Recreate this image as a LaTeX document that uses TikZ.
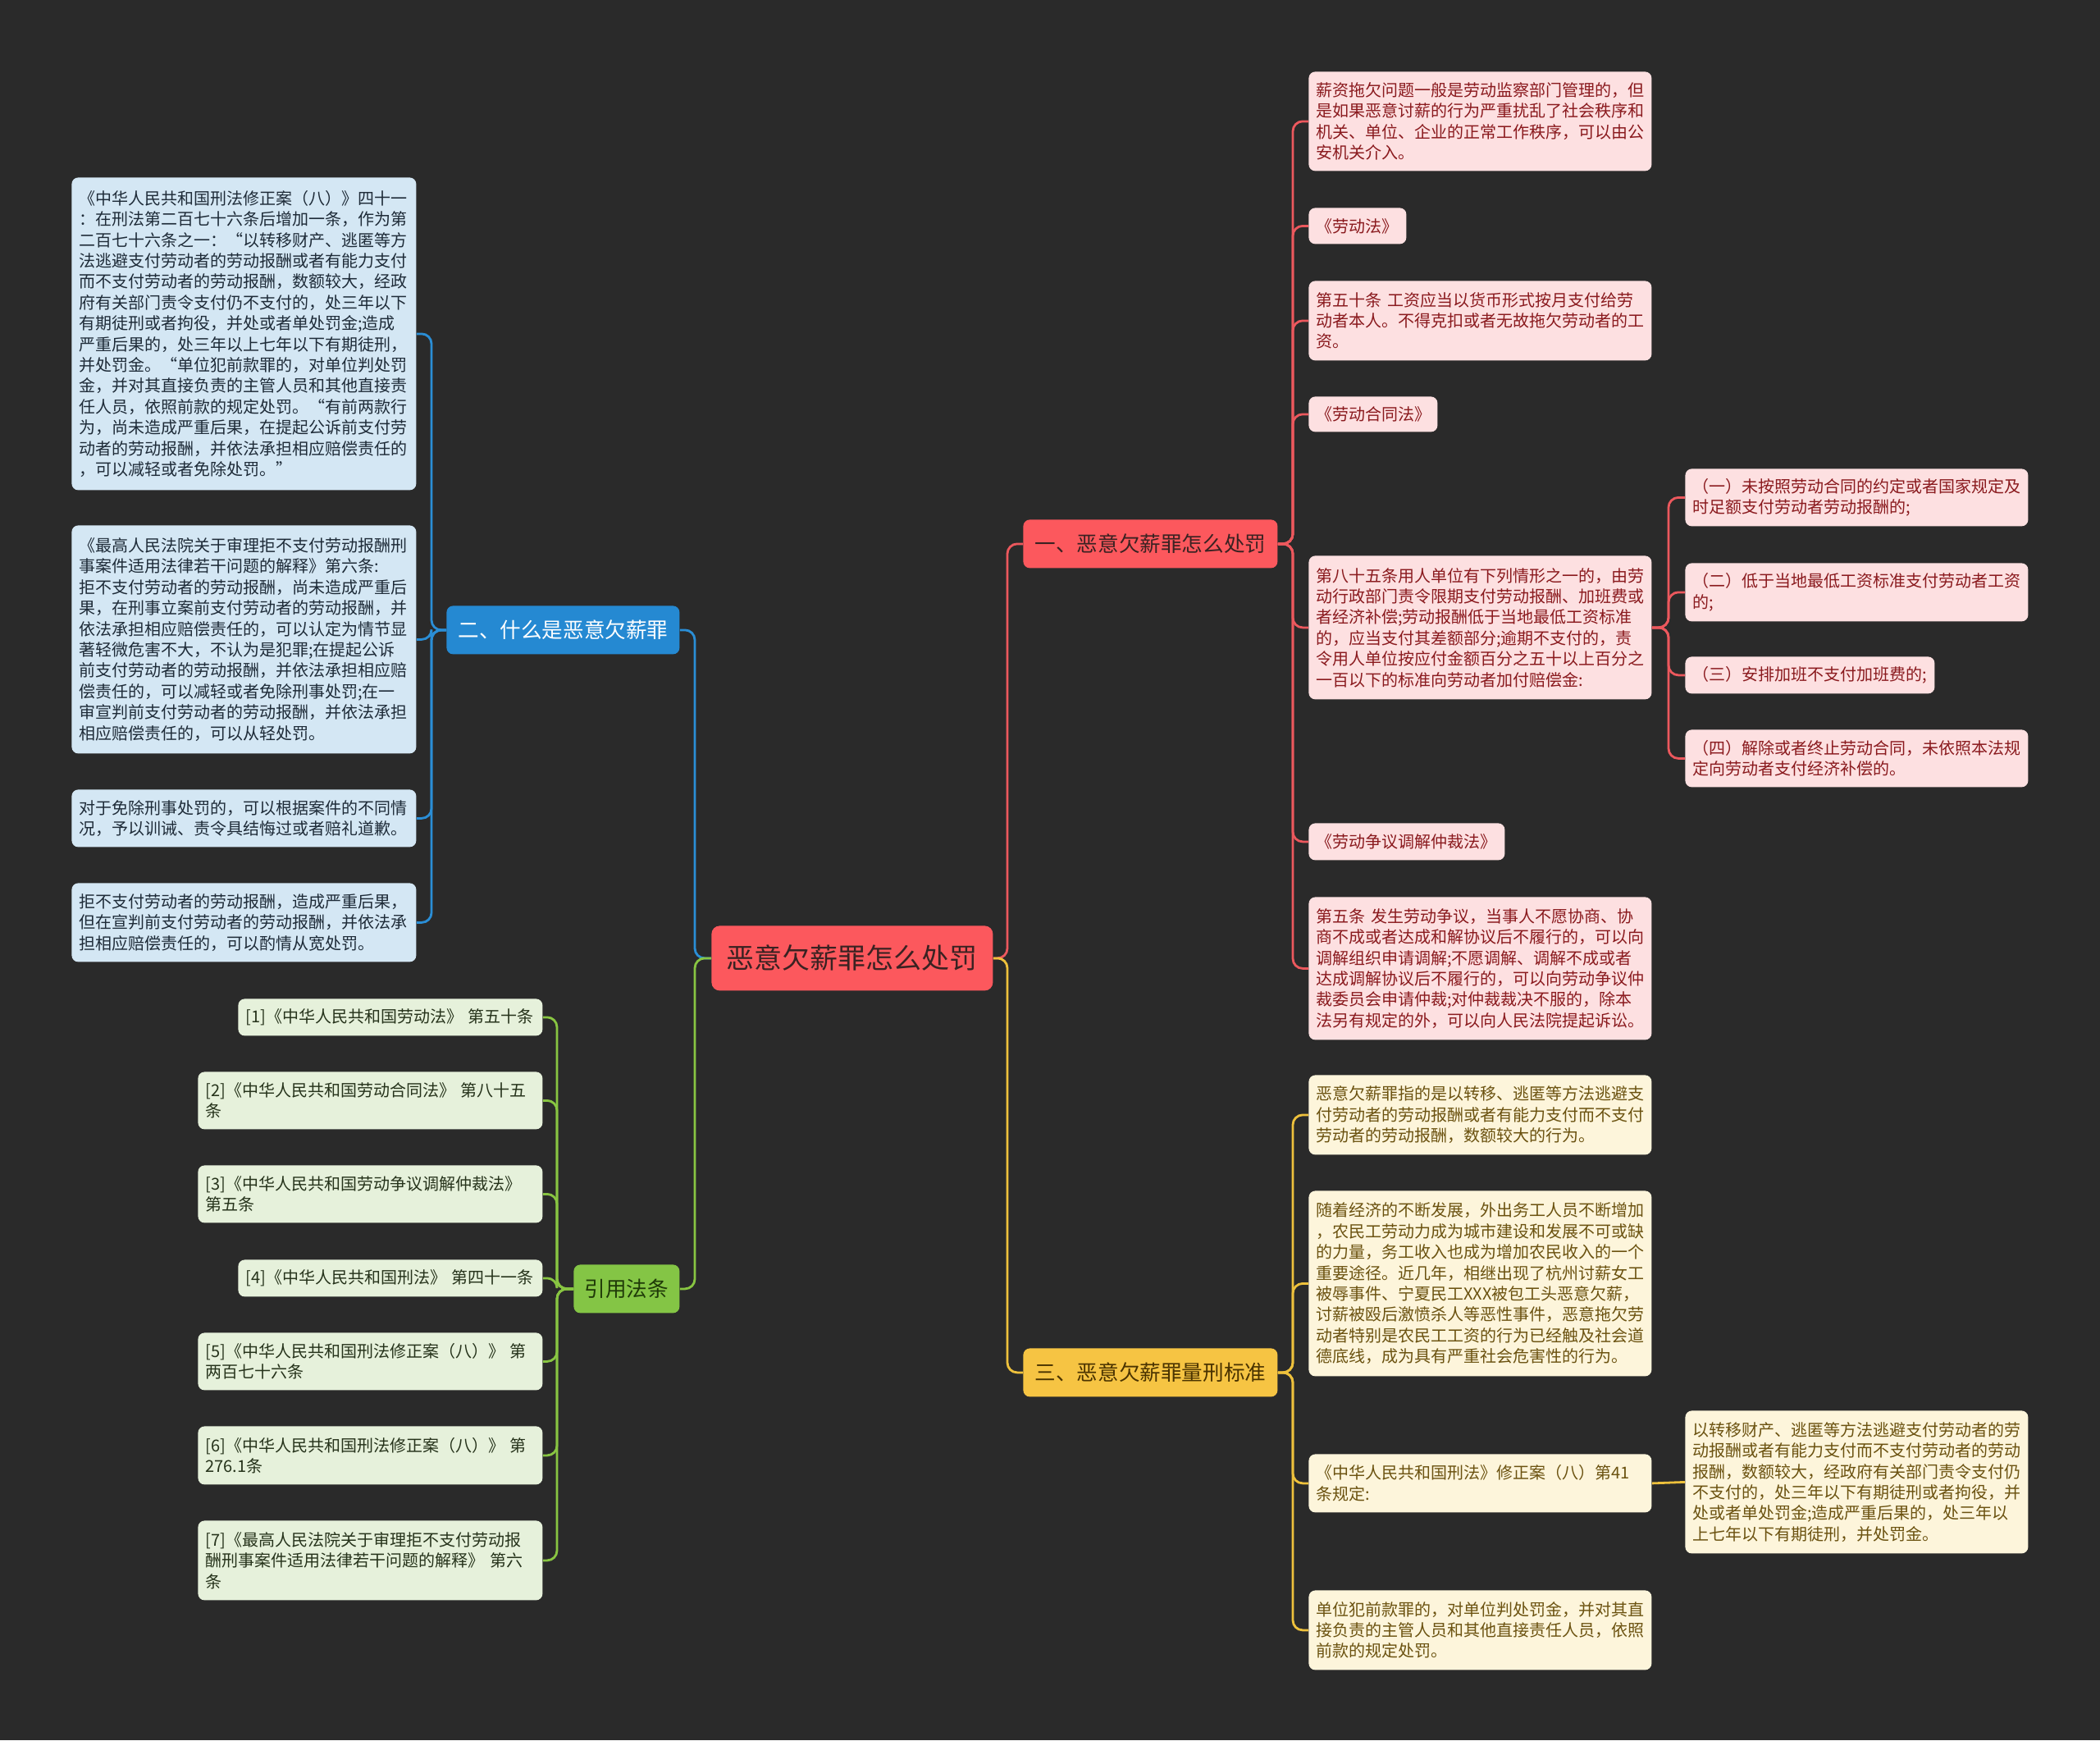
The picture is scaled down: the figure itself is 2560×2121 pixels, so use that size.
\documentclass[tikz,border=0pt]{standalone}
\usepackage{fontspec}
\newfontfamily\cjk{Noto Sans CJK SC}
\definecolor{bgc}{HTML}{2A2A2A}
\definecolor{redmain}{HTML}{FC585D}
\definecolor{redtxt}{HTML}{3A2222}
\definecolor{redline}{HTML}{EC585D}
\definecolor{rleaff}{HTML}{FDE0E1}
\definecolor{rleaft}{HTML}{8A1A1E}
\definecolor{bluemain}{HTML}{2589D2}
\definecolor{blueline}{HTML}{2A8ED6}
\definecolor{bleaff}{HTML}{D4E7F4}
\definecolor{bleaft}{HTML}{1E2B38}
\definecolor{yelmain}{HTML}{F6C443}
\definecolor{yeltxt}{HTML}{4A3300}
\definecolor{yelline}{HTML}{EEC13C}
\definecolor{yleaff}{HTML}{FDF5DB}
\definecolor{yleaft}{HTML}{6B5210}
\definecolor{grnmain}{HTML}{84C545}
\definecolor{grntxt}{HTML}{1F3A08}
\definecolor{grnline}{HTML}{88C542}
\definecolor{gleaff}{HTML}{E6F1DB}
\definecolor{gleaft}{HTML}{26331B}
\tikzset{
  box/.style={rounded corners=4pt, inner xsep=4.5pt, inner ysep=0pt, anchor=north west,
    font=\cjk\fontsize{10}{12.7}\selectfont, align=left},
  rleaf/.style={box, fill=rleaff, text=rleaft},
  bleaf/.style={box, fill=bleaff, text=bleaft},
  yleaf/.style={box, fill=yleaff, text=yleaft},
  gleaf/.style={box, fill=gleaff, text=gleaft},
  branchbox/.style={rounded corners=4pt, inner sep=0pt, anchor=north west, align=center,
    font=\cjk\fontsize{12.8}{15}\selectfont, minimum height=29.5pt},
  rootbox/.style={rounded corners=5pt, inner sep=0pt, anchor=north west, align=center,
    font=\cjk\fontsize{17}{20}\selectfont, fill=redmain, text=redtxt,
    minimum width=171.5pt, minimum height=39.5pt},
  conn/.style={line width=1.4pt, rounded corners=6pt},
  rconn/.style={conn, draw=redline},
  bconn/.style={conn, draw=blueline},
  yconn/.style={conn, draw=yelline},
  gconn/.style={conn, draw=grnline},
}
\begin{document}
\begin{tikzpicture}[x=0.5pt, y=-0.5pt]
\fill[bgc] (0,0) rectangle (2560,2121);
\useasboundingbox (0,0) rectangle (2560,2121);

% root and branches
\node[rootbox] (root) at (867,1128) {恶意欠薪罪怎么处罚};
\node[branchbox, fill=redmain, text=redtxt, minimum width=155pt] (br1) at (1247,633) {一、恶意欠薪罪怎么处罚};
\node[branchbox, fill=bluemain, text=white, minimum width=142pt] (br2) at (544,738) {二、什么是恶意欠薪罪};
\node[branchbox, fill=yelmain, text=yeltxt, minimum width=155pt] (br3) at (1247,1643) {三、恶意欠薪罪量刑标准};
\node[branchbox, fill=grnmain, text=grntxt, minimum width=64.5pt] (br4) at (699,1541) {引用法条};

% red leaves
\node[rleaf, minimum width=209pt, text width=200pt, minimum height=60.5pt] (r1) at (1595,87) {薪资拖欠问题一般是劳动监察部门管理的，但\\是如果恶意讨薪的行为严重扰乱了社会秩序和\\机关、单位、企业的正常工作秩序，可以由公\\安机关介入。};
\node[rleaf, minimum width=59.5pt, text width=50.5pt, minimum height=22pt] (r2) at (1595,253) {《劳动法》};
\node[rleaf, minimum width=209pt, text width=200pt, minimum height=48.5pt] (r3) at (1595,342) {第五十条~工资应当以货币形式按月支付给劳\\动者本人。不得克扣或者无故拖欠劳动者的工\\资。};
\node[rleaf, minimum width=78.5pt, text width=69.5pt, minimum height=21.5pt] (r4) at (1595,483) {《劳动合同法》};
\node[rleaf, minimum width=209pt, text width=200pt, minimum height=87.5pt] (r5) at (1595,677) {第八十五条用人单位有下列情形之一的，由劳\\动行政部门责令限期支付劳动报酬、加班费或\\者经济补偿;劳动报酬低于当地最低工资标准\\的，应当支付其差额部分;逾期不支付的，责\\令用人单位按应付金额百分之五十以上百分之\\一百以下的标准向劳动者加付赔偿金:};
\node[rleaf, minimum width=119.5pt, text width=110.5pt, minimum height=22.5pt] (r6) at (1595,1003) {《劳动争议调解仲裁法》};
\node[rleaf, minimum width=209pt, text width=200pt, minimum height=87pt] (r7) at (1595,1093) {第五条~发生劳动争议，当事人不愿协商、协\\商不成或者达成和解协议后不履行的，可以向\\调解组织申请调解;不愿调解、调解不成或者\\达成调解协议后不履行的，可以向劳动争议仲\\裁委员会申请仲裁;对仲裁裁决不服的，除本\\法另有规定的外，可以向人民法院提起诉讼。};

% red sub-leaves
\node[rleaf, minimum width=209pt, text width=200pt, minimum height=35pt] (s1) at (2054,571) {（一）未按照劳动合同的约定或者国家规定及\\时足额支付劳动者劳动报酬的;};
\node[rleaf, minimum width=209pt, text width=200pt, minimum height=35.5pt] (s2) at (2054,686) {（二）低于当地最低工资标准支付劳动者工资\\的;};
\node[rleaf, minimum width=152pt, text width=143pt, minimum height=22.5pt] (s3) at (2054,800) {（三）安排加班不支付加班费的;};
\node[rleaf, minimum width=209pt, text width=200pt, minimum height=35pt] (s4) at (2054,889) {（四）解除或者终止劳动合同，未依照本法规\\定向劳动者支付经济补偿的。};

% yellow leaves
\node[yleaf, minimum width=209pt, text width=200pt, minimum height=48.5pt] (y1) at (1595,1310) {恶意欠薪罪指的是以转移、逃匿等方法逃避支\\付劳动者的劳动报酬或者有能力支付而不支付\\劳动者的劳动报酬，数额较大的行为。};
\node[yleaf, minimum width=209pt, text width=200pt, minimum height=113pt] (y2) at (1595,1451) {随着经济的不断发展，外出务工人员不断增加\\，农民工劳动力成为城市建设和发展不可或缺\\的力量，务工收入也成为增加农民收入的一个\\重要途径。近几年，相继出现了杭州讨薪女工\\被辱事件、宁夏民工XXX被包工头恶意欠薪，\\讨薪被殴后激愤杀人等恶性事件，恶意拖欠劳\\动者特别是农民工工资的行为已经触及社会道\\德底线，成为具有严重社会危害性的行为。};
\node[yleaf, minimum width=209pt, text width=200pt, minimum height=35.5pt] (y3) at (1595,1772) {《中华人民共和国刑法》修正案（八）第41\\条规定:};
\node[yleaf, minimum width=209pt, text width=200pt, minimum height=48.5pt] (y4) at (1595,1938) {单位犯前款罪的，对单位判处罚金，并对其直\\接负责的主管人员和其他直接责任人员，依照\\前款的规定处罚。};
\node[yleaf, minimum width=209pt, text width=200pt, minimum height=87pt] (ys) at (2054,1719) {以转移财产、逃匿等方法逃避支付劳动者的劳\\动报酬或者有能力支付而不支付劳动者的劳动\\报酬，数额较大，经政府有关部门责令支付仍\\不支付的，处三年以下有期徒刑或者拘役，并\\处或者单处罚金;造成严重后果的，处三年以\\上七年以下有期徒刑，并处罚金。};

% blue leaves
\node[bleaf, minimum width=210pt, text width=201pt, minimum height=190.5pt] (b1) at (87,216) {《中华人民共和国刑法修正案（八）》四十一\\：在刑法第二百七十六条后增加一条，作为第\\二百七十六条之一：“以转移财产、逃匿等方\\法逃避支付劳动者的劳动报酬或者有能力支付\\而不支付劳动者的劳动报酬，数额较大，经政\\府有关部门责令支付仍不支付的，处三年以下\\有期徒刑或者拘役，并处或者单处罚金;造成\\严重后果的，处三年以上七年以下有期徒刑，\\并处罚金。“单位犯前款罪的，对单位判处罚\\金，并对其直接负责的主管人员和其他直接责\\任人员，依照前款的规定处罚。“有前两款行\\为，尚未造成严重后果，在提起公诉前支付劳\\动者的劳动报酬，并依法承担相应赔偿责任的\\，可以减轻或者免除处罚。”};
\node[bleaf, minimum width=210pt, text width=201pt, minimum height=139pt] (b2) at (87,640) {《最高人民法院关于审理拒不支付劳动报酬刑\\事案件适用法律若干问题的解释》第六条:\\拒不支付劳动者的劳动报酬，尚未造成严重后\\果，在刑事立案前支付劳动者的劳动报酬，并\\依法承担相应赔偿责任的，可以认定为情节显\\著轻微危害不大，不认为是犯罪;在提起公诉\\前支付劳动者的劳动报酬，并依法承担相应赔\\偿责任的，可以减轻或者免除刑事处罚;在一\\审宣判前支付劳动者的劳动报酬，并依法承担\\相应赔偿责任的，可以从轻处罚。};
\node[bleaf, minimum width=210pt, text width=201pt, minimum height=35pt] (b3) at (87,962) {对于免除刑事处罚的，可以根据案件的不同情\\况，予以训诫、责令具结悔过或者赔礼道歉。};
\node[bleaf, minimum width=210pt, text width=201pt, minimum height=48pt] (b4) at (87,1076) {拒不支付劳动者的劳动报酬，造成严重后果，\\但在宣判前支付劳动者的劳动报酬，并依法承\\担相应赔偿责任的，可以酌情从宽处罚。};

% green leaves
\node[gleaf, minimum width=185.5pt, text width=176.5pt, minimum height=22.5pt] (g1) at (290,1217) {[1]《中华人民共和国劳动法》~第五十条};
\node[gleaf, minimum width=210pt, text width=201pt, minimum height=35pt] (g2) at (241,1306) {[2]《中华人民共和国劳动合同法》~第八十五\\条};
\node[gleaf, minimum width=210pt, text width=201pt, minimum height=35pt] (g3) at (241,1420) {[3]《中华人民共和国劳动争议调解仲裁法》\\第五条};
\node[gleaf, minimum width=185.5pt, text width=176.5pt, minimum height=22.5pt] (g4) at (290,1535) {[4]《中华人民共和国刑法》~第四十一条};
\node[gleaf, minimum width=210pt, text width=201pt, minimum height=35pt] (g5) at (241,1624) {[5]《中华人民共和国刑法修正案（八）》~第\\两百七十六条};
\node[gleaf, minimum width=210pt, text width=201pt, minimum height=35.5pt] (g6) at (241,1738) {[6]《中华人民共和国刑法修正案（八）》~第\\276.1条};
\node[gleaf, minimum width=210pt, text width=201pt, minimum height=48.5pt] (g7) at (241,1853) {[7]《最高人民法院关于审理拒不支付劳动报\\酬刑事案件适用法律若干问题的解释》~第六\\条};

% trunk coordinates
\coordinate (tRootR) at (1228,0);
\coordinate (tRootL) at (847,0);
\coordinate (tRed) at (1576,0);
\coordinate (tSub) at (2034,0);
\coordinate (tBlue) at (526,0);
\coordinate (tGrn) at (679,0);

% root connectors
\draw[rconn] (root.east) -- (root.east -| tRootR) |- (br1.west);
\draw[yconn] (root.east) -- (root.east -| tRootR) |- (br3.west);
\draw[bconn] (root.west) -- (root.west -| tRootL) |- (br2.east);
\draw[gconn] (root.west) -- (root.west -| tRootL) |- (br4.east);

% red connectors
\foreach \n in {r1,r2,r3,r4,r5,r6,r7}
  \draw[rconn] (br1.east) -- (br1.east -| tRed) |- (\n.west);
\foreach \n in {s1,s2,s3,s4}
  \draw[rconn] (r5.east) -- (r5.east -| tSub) |- (\n.west);

% yellow connectors
\foreach \n in {y1,y2,y3,y4}
  \draw[yconn] (br3.east) -- (br3.east -| tRed) |- (\n.west);
\draw[yconn] (y3.east) -- (ys.west);

% blue connectors
\foreach \n in {b1,b2,b3,b4}
  \draw[bconn] (br2.west) -- (br2.west -| tBlue) |- (\n.east);

% green connectors
\foreach \n in {g1,g2,g3,g4,g5,g6,g7}
  \draw[gconn] (br4.west) -- (br4.west -| tGrn) |- (\n.east);
\end{tikzpicture}
\end{document}
